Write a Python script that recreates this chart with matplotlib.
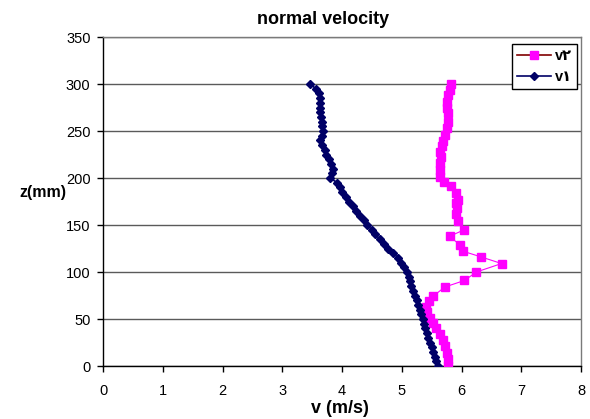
import matplotlib
matplotlib.use("Agg")
import matplotlib.pyplot as plt
from matplotlib.lines import Line2D

plt.rcParams['font.family'] = ['Liberation Sans', 'DejaVu Sans']

title = "normal velocity"
xlabel = "v (m/s)"
ylabel = "z(mm)"
label_v1 = "v\u0661"
label_v2 = "v\u0662"

# v1 profile
z1 = [0, 5, 10, 15, 20, 25, 30, 35, 40, 45, 50, 55, 60, 65, 70, 75, 80, 85, 90, 95,
      100, 105, 110, 115, 120, 125, 130, 135, 140, 145, 150, 155, 160, 165, 170, 175,
      180, 185, 190, 195, 200, 205, 210, 215, 220, 225, 230, 235, 240, 245, 250, 255,
      260, 265, 270, 275, 280, 285, 290, 295, 300]
v1 = [5.61, 5.58, 5.55, 5.52, 5.50, 5.47, 5.44, 5.42, 5.39, 5.37, 5.35, 5.33, 5.30, 5.28,
      5.25, 5.22, 5.19, 5.16, 5.14, 5.12, 5.08, 5.03, 4.98, 4.94, 4.86, 4.77, 4.70, 4.63,
      4.56, 4.50, 4.42, 4.36, 4.30, 4.24, 4.19, 4.12, 4.06, 4.00, 3.96, 3.92, 3.80, 3.84,
      3.85, 3.82, 3.78, 3.74, 3.72, 3.66, 3.64, 3.67, 3.68, 3.66, 3.66, 3.65, 3.64, 3.64,
      3.63, 3.63, 3.62, 3.56, 3.47]

# v2 profile
z2 = [0, 7, 14, 21, 28, 34, 40, 46, 51, 57, 63, 69, 74, 84, 91, 100, 109, 116, 122, 129,
      138, 145, 154, 162, 168, 173, 177, 184, 191, 196, 201, 208, 216, 222, 228, 234, 239,
      246, 253, 260, 269, 275, 281, 288, 294, 300]
v2 = [5.78, 5.77, 5.75, 5.72, 5.69, 5.64, 5.58, 5.52, 5.47, 5.43, 5.41, 5.46, 5.52, 5.72,
      6.05, 6.25, 6.67, 6.33, 6.03, 5.97, 5.80, 6.05, 5.94, 5.91, 5.92, 5.91, 5.94, 5.90,
      5.83, 5.70, 5.64, 5.64, 5.64, 5.65, 5.64, 5.67, 5.69, 5.73, 5.75, 5.77, 5.78, 5.76,
      5.75, 5.78, 5.80, 5.83]

xticks = [0, 1, 2, 3, 4, 5, 6, 7, 8]
yticks = [0, 50, 100, 150, 200, 250, 300, 350]

W, H = 590, 419
fig = plt.figure(figsize=(W / 100, H / 100), dpi=100)
ax = fig.add_axes([103 / W, 1 - 366 / H, (581 - 103) / W, (366 - 37) / H])

ax.set_xlim(0, 8)
ax.set_ylim(0, 350)
ax.set_xticks(xticks)
ax.set_yticks(yticks)
ax.set_xticklabels([str(t) for t in xticks])
ax.set_yticklabels([str(t) for t in yticks])

ax.yaxis.grid(True, color='#5a5a5a', linewidth=1.0)
ax.set_axisbelow(True)

ax.plot(v2, z2, color='#ff00ff', linewidth=0.8, marker='s', markersize=6.3,
        markerfacecolor='#ff00ff', markeredgecolor='#ff00ff', zorder=3)
ax.plot(v1, z1, color='#000066', linewidth=1.2, marker='D', markersize=4.2,
        markerfacecolor='#000066', markeredgecolor='#000066', zorder=4)

for s in ['left', 'bottom']:
    ax.spines[s].set_color('black')
    ax.spines[s].set_linewidth(1.0)
for s in ['right', 'top']:
    ax.spines[s].set_color('#7a7a7a')
    ax.spines[s].set_linewidth(1.0)

ax.tick_params(axis='y', direction='out', length=4, width=1, pad=5, labelsize=10.5)
ax.tick_params(axis='x', direction='out', length=4, width=1, pad=9, labelsize=10.5)

fig.text(323 / W, 1 - 19 / H, title, ha='center', va='center', fontsize=13, fontweight='bold')
fig.text(340 / W, 1 - 408 / H, xlabel, ha='center', va='center', fontsize=13, fontweight='bold')
fig.text(43 / W, 1 - 192 / H, ylabel, ha='center', va='center', fontsize=11.5, fontweight='bold')

h2 = Line2D([], [], color='#800000', linewidth=1.2, marker='s', markersize=6,
            markerfacecolor='#ff00ff', markeredgecolor='#ff00ff')
h1 = Line2D([], [], color='#000066', linewidth=1.2, marker='D', markersize=4,
            markerfacecolor='#000066', markeredgecolor='#000066')
leg = fig.legend([h2, h1], [label_v2, label_v1], loc='upper right',
                 bbox_to_anchor=(577 / W, 1 - 44 / H), frameon=True, fancybox=False,
                 edgecolor='black', framealpha=1, borderpad=0.35, labelspacing=0.5,
                 handlelength=2.3, handletextpad=0.3, borderaxespad=0,
                 prop={'weight': 'bold', 'size': 10.5})
leg.get_frame().set_linewidth(1.0)

fig.savefig('out.png', dpi=100)
